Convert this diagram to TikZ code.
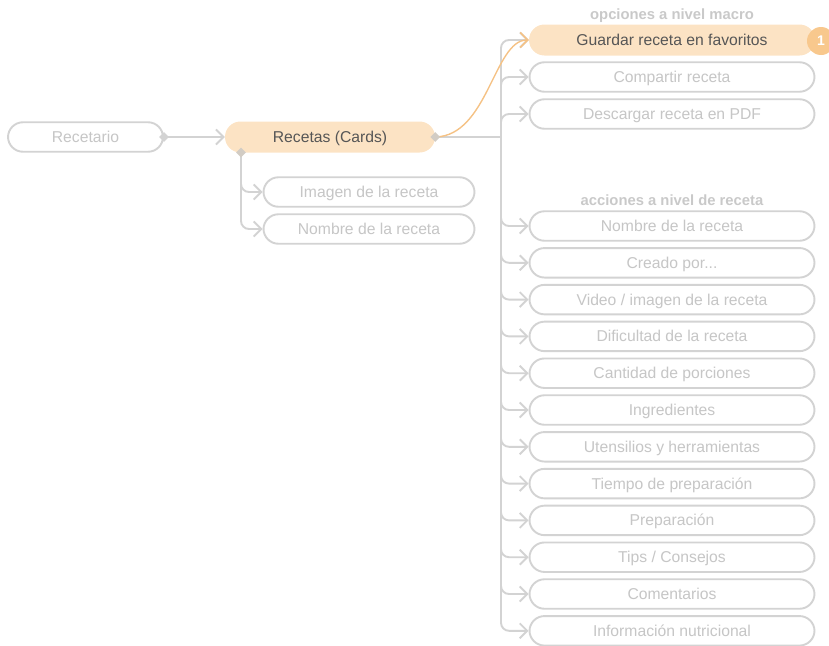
\documentclass[tikz,border=0pt]{standalone}
\usepackage{fontspec}
\setmainfont{Liberation Sans}
\usetikzlibrary{arrows.meta,shapes.geometric}
\definecolor{lgray}{HTML}{D3D3D3}
\definecolor{tgray}{HTML}{C6C6C6}
\definecolor{hgray}{HTML}{C9C9C9}
\definecolor{peach}{HTML}{FCE3C4}
\definecolor{orng}{HTML}{F5C285}
\definecolor{badge}{HTML}{F8C88D}
\definecolor{dtext}{HTML}{565656}
\definecolor{dmd}{HTML}{D2CCC4}
\tikzset{
  pill/.style={draw=lgray, line width=1.9pt, rounded corners=15pt, minimum height=29.5pt, inner sep=0pt, text=tgray, font=\fontsize{15.7}{18}\selectfont, fill=white, text height=11pt, text depth=0pt},
  rbox/.style={pill, minimum width=285pt},
  lbox/.style={pill, minimum width=211pt},
  hot/.style={draw=none, fill=peach, text=dtext, rounded corners=15.5pt, minimum height=31pt, inner sep=0pt, font=\fontsize{15.7}{18}\selectfont, text height=11pt, text depth=0pt},
  conn/.style={draw=lgray, line width=1.9pt, rounded corners=8pt, -{Straight Barb[length=7.5pt,width=15pt,line width=1.9pt]}},
  plain/.style={draw=lgray, line width=1.9pt},
  dia/.style={diamond, fill=#1, minimum size=10pt, inner sep=0pt},
  dia/.default=lgray,
  head/.style={text=hgray, font=\bfseries\fontsize{14.8}{17}\selectfont},
}
\begin{document}
\begin{tikzpicture}[x=1pt,y=-1pt]
\clip (0,0) rectangle (829,645);
\useasboundingbox (0,0) rectangle (829,645);
% nodes
\node[pill, minimum width=155pt] (rec) at (85.5,137) {Recetario};
\node[hot, minimum width=210pt] (rc) at (330,137) {Recetas (Cards)};
\node[lbox] (img) at (369,192) {Imagen de la receta};
\node[lbox] (nom) at (369,229) {Nombre de la receta};

\node[head] (h1) at (672,16) {opciones a nivel macro};
\node[head] (h2) at (672,200) {acciones a nivel de receta};

\node[hot, minimum width=286pt] (g) at (672,40) {Guardar receta en favoritos};
\node[rbox] (r2) at (672,77) {Compartir receta};
\node[rbox] (r3) at (672,114) {Descargar receta en PDF};
\node[rbox] (a1) at (672,226) {Nombre de la receta};
\node[rbox] (a2) at (672,262.8) {Creado por...};
\node[rbox] (a3) at (672,299.6) {Video / imagen de la receta};
\node[rbox] (a4) at (672,336.4) {Dificultad de la receta};
\node[rbox] (a5) at (672,373.2) {Cantidad de porciones};
\node[rbox] (a6) at (672,410) {Ingredientes};
\node[rbox] (a7) at (672,446.8) {Utensilios y herramientas};
\node[rbox] (a8) at (672,483.6) {Tiempo de preparación};
\node[rbox] (a9) at (672,520.4) {Preparación};
\node[rbox] (a10) at (672,557.2) {Tips / Consejos};
\node[rbox] (a11) at (672,594) {Comentarios};
\node[rbox] (a12) at (672,630.8) {Información nutricional};

\node[circle, fill=badge, minimum size=28pt, inner sep=0pt, text=white, font=\bfseries\fontsize{14}{16}\selectfont] (b1) at (821,41) {1};

% connectors
\coordinate (trunk) at (501,137);
\coordinate (rcb) at (241,152.5);
\draw[conn] (rec.east) -- (rc.west);
\draw[plain] (rc.east) -- (trunk);
\foreach \n in {g,r2,r3,a1,a2,a3,a4,a5,a6,a7,a8,a9,a10,a11,a12}{
  \draw[conn] (trunk) |- (\n.west);
}
\draw[conn] (rcb) |- (img.west);
\draw[conn] (rcb) |- (nom.west);
\draw[line width=1.4pt, draw=orng, -{Straight Barb[length=7.5pt,width=15pt,line width=1.6pt]}] (rc.east) .. controls (488,136) and (494,40) .. (g.west);

% diamonds
\node[dia] (d1) at (rec.east) {};
\node[dia=dmd] (d2) at (rc.east) {};
\node[dia=dmd] (d3) at (rcb) {};
\end{tikzpicture}
\end{document}
